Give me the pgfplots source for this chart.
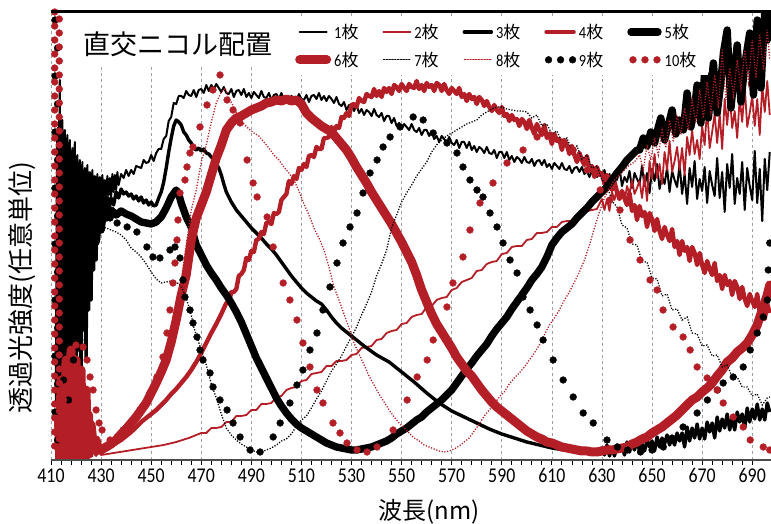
\documentclass[border=0pt]{standalone}
\usepackage{fontspec}
\setmainfont{Carlito}[FakeStretch=0.85]
\newfontfamily\jp{Noto Sans CJK JP}
\usepackage{pgfplots}
\pgfplotsset{compat=1.18}
\definecolor{redE}{RGB}{180,30,38}
\newcommand{\mai}{{\jp 枚}}
\pgfplotsset{
  linelegend/.style={legend image code/.code={\draw[##1, line cap=round] (0pt,0pt) -- (27pt,0pt);}},
  dotlegend/.style={legend image code/.code={\draw[##1] plot coordinates {(2pt,0pt)(14pt,0pt)(26pt,0pt)};}},
}
\begin{document}
\begin{tikzpicture}
\useasboundingbox (-51pt,-64pt) rectangle (720pt,460pt);
\begin{axis}[
  scale only axis, width=720pt, height=448pt,
  at={(0pt,0pt)}, anchor=south west,
  xmin=410, xmax=697.5, ymin=0, ymax=448,
  axis line style={draw=none},
  xtick={410,430,...,690}, minor x tick num=4,
  xtick pos=bottom, ytick=\empty,
  tick align=outside,
  major tick length=5pt, minor tick length=5pt,
  tick style={black, line width=0.8pt},
  xmajorgrids, major grid style={gray!75, line width=0.6pt, dash pattern=on 3pt off 3pt},
  /pgf/number format/assume math mode=true,
  xticklabel style={font=\fontsize{21}{21}\selectfont},
  legend columns=5,
  legend style={at={(axis description cs:0.325,0.989)}, anchor=north west,
    draw=none, fill=white, inner xsep=10pt, inner ysep=5pt,
    font=\fontsize{17}{17}\selectfont, row sep=8pt,
    /tikz/every odd column/.append style={column sep=1pt},
    /tikz/every even column/.append style={column sep=22pt}},
  legend cell align=left,
  linelegend,
]
% 1 plate
\addplot[black, line width=2pt, line join=round] coordinates {
(413,160)(413.5,380)(414,200)(414.5,340)(415,250)(415.5,330)(416,220)(416.5,325)(417,240)(417.5,320)(418,230)(418.5,312)(419,250)(419.5,318)(420,235)(420.5,305)(421,255)(421.5,300)(422,240)(422.5,298)(423,250)(423.5,292)(424,245)(424.5,295)(425,255)(425.5,288)(426,250)(426.5,290)(427,258)(427.5,284)(428,250)(428.5,286)(429,262)(429.5,283)(430,255)(430.5,285)(431,262)(431.5,280)(432,258)(432.5,284)(433,265)(433.5,282)(434,262)(434.5,286)(435,268)(435.5,285)(436,270)(436.5,288)(437,275)
(438,286)(439,282)(440,290)(441,284)(442,290)(443,286)(444,294)(445,293)(446,292)(447,300)(448,297)(449,298)(450,305)(451,299)(452,307)(453,311)(454,311)
(455,321)(456,324)(457,339)(458,343)(459,357)(460,356)(461,364)(462,364)(463,362)(464,369)(465,365)(466,364)(467,370)(468,363)(469,370)(470,371)(471,367)(472,375)(473,369)(474,375)(475,371)(476,376)(477,372)(478,368)(479,373)(480,367)(481,366)(482,371)(483,363)(484,369)(485,370)(486,365)(487,371)(488,363)(489,367)(490,362)(491,368)(492,365)(493,362)(494,369)(495,363)(496,362)(497,367)(498,360)(499,365)(500,366)(501,361)(502,367)(503,360)(504,364)(505,358)(506,364)(507,362)(508,359)(509,366)(510,361)(511,360)(512,365)(513,358)(514,364)(515,365)(516,361)(517,367)(518,360)(519,364)(520,359)(521,364)(522,361)(523,357)(524,363)(525,356)(526,354)(527,358)(528,350)(529,355)(530,355)(531,349)(532,355)(533,347)(534,351)(535,345)(536,350)(537,348)(538,344)(539,351)(540,345)(541,343)(542,347)(543,339)(544,344)(545,344)(546,337)(547,342)(548,334)(549,337)(550,331)(551,336)(552,333)(553,330)(554,336)(555,330)(556,328)(557,332)(558,325)(559,330)(560,330)(561,324)(562,329)(563,321)(564,324)(565,318)(566,324)(567,321)(568,317)(569,323)(570,317)(571,315)(572,320)(573,312)(574,318)(575,318)(576,312)(577,318)(578,310)(579,314)(580,308)(581,313)(582,311)(583,307)(584,313)(585,307)(586,306)(587,310)(588,302)(589,308)(590,308)(591,302)(592,308)(593,300)(594,304)(595,298)(596,303)(597,301)(598,297)(599,303)(600,298)(601,297)(602,301)(603,294)(604,299)(605,300)(606,295)(607,300)(608,293)(609,296)(610,291)(611,297)(612,294)(613,291)(614,297)(615,291)(616,290)(617,294)(618,287)(619,292)(620,293)(621,288)(622,293)(623,286)(624,289)(625,283)(626,289)(627,286)(628,283)(629,289)(630,284)
(631,290)(632,276)(633,286)(634,271)(635,288)(636,280)(637,292)(638,274)(639,283)(640,278)(641,289)(642,272)(643,287)(644,281)(645,276)(646,294)(647,274)(648,287)(649,267)(650,291)(651,279)(652,296)(653,271)(654,284)(655,276)(656,292)(657,268)(658,289)(659,280)(660,273)(661,296)(662,266)(663,286)(664,256)(665,292)(666,273)(667,299)(668,261)(669,281)(670,269)(671,293)(672,257)(673,289)(674,275)(675,264)(676,302)(677,262)(678,288)(679,248)(680,296)(681,272)(682,306)(683,256)(684,282)(685,266)(686,298)(687,250)(688,292)(689,274)(690,260)(691,309)(692,257)(693,291)(694,239)(695,301)(696,270)(697,308)};
\addlegendentry{1\mai}
% 2 plates
\addplot[redE, line width=1.8pt, line join=round] coordinates {
(413,40)(413.5,0)(414,60)(414.5,5)(415,45)(415.5,0)(416,70)(416.5,10)(417,50)(417.5,0)(418,80)(418.5,5)(419,40)(419.5,0)(420,60)(420.5,3)(421,35)(421.5,0)(422,45)(422.5,2)(423,30)(423.5,0)(424,25)(424.5,2)(425,18)(426,3)(427,12)(428,4)(429,8)(430,5)(435,7)(440,9)(445,11)(450,13)(455,15)(460,18)(465,22)
(470,27)(472,27)(474,32)(476,32)(478,33)(480,38)(482,38)(484,44)(486,44)(488,45)(490,50)(492,50)(494,56)(496,56)(498,57)(500,63)(502,64)(504,70)(506,72)(508,73)(510,79)(512,80)(514,86)(516,87)(518,88)(520,94)(522,94)(524,99)(526,99)(528,100)(530,105)(532,106)(534,112)(536,113)(538,114)(540,120)(542,121)(544,127)(546,129)(548,130)(550,136)(552,137)(554,143)(556,145)(558,146)(560,153)(562,154)(564,160)(566,162)(568,163)(570,170)(572,172)(574,178)(576,180)(578,182)(580,189)(582,190)(584,196)(586,198)(588,199)(590,206)(592,207)(594,213)(596,214)(598,214)(600,220)(602,221)(604,227)(606,227)(608,228)(610,233)(612,233)(614,238)(616,239)(618,239)(620,244)(622,244)(624,249)(626,250)(628,251)
(630,261)(631,250)(632,261)(633,249)(634,268)(635,260)(636,272)(637,260)(638,267)(639,258)(640,274)(641,266)(642,280)(643,266)(644,272)(645,279)(646,262)(647,285)(648,259)(649,299)(650,281)(651,306)(652,282)(653,296)(654,276)(655,308)(656,290)(657,319)(658,288)(659,299)(660,313)(661,290)(662,312)(663,285)(664,323)(665,305)(666,330)(667,306)(668,320)(669,301)(670,334)(671,315)(672,352)(673,312)(674,328)(675,346)(676,317)(677,346)(678,311)(679,361)(680,335)(681,366)(682,332)(683,349)(684,322)(685,362)(686,338)(687,374)(688,333)(689,347)(690,364)(691,334)(692,361)(693,325)(694,374)(695,348)(696,379)(697,345)};
\addlegendentry{2\mai}
% 3 plates
\addplot[black, line width=3.4pt, line join=round] coordinates {
(413,120)(413.5,340)(414,30)(414.5,320)(415,60)(415.5,300)(416,20)(416.5,290)(417,80)(417.5,310)(418,40)(418.5,280)(419,90)(419.5,300)(420,50)(420.5,285)(421,110)(421.5,290)(422,70)(422.5,275)(423,130)(423.5,280)(424,100)(424.5,270)(425,150)(425.5,272)(426,160)(426.5,268)(427,190)(427.5,270)(428,200)(428.5,262)(429,220)(429.5,268)(430,230)(430.5,262)(431,240)(431.5,265)(432,245)(432.5,263)(433,250)(434,262)(435,255)(436,268)(437,262)(438,271)(439,266)(440,268)(441,264)(442,266)(443,261)(444,264)(445,259)(446,263)(447,257)(448,260)(449,255)(450,258)(451,254)(452,255)(453,262)(454,268)(455,278)(456,292)(457,308)(458,322)(459,334)(460,340)(461,338)(462,335)(463,328)(464,325)(465,320)(466,317)(467,312)(468,310)(469,312)(470,309)(471,311)(472,307)(473,306)(474,303)(475,300)(476,296)(477,292)(478,285)(479,276)(480,268)(482,258)(484,250)(486,244)(488,238)(490,232)(492,227)(494,222)(496,216)(498,211)(500,205)(502,198)(504,191)(506,184)(508,178)(510,172)(512,167)(514,163)(516,159)(518,156)(520,150)(522,143)(524,137)(526,132)(528,128)(530,124)(535,114)(540,105)(545,98)(550,88)(555,78)(560,67)(565,57)(570,49)(575,43)(580,37)(585,31)(590,26)(595,22)(600,18)(605,15)(610,12)(615,10)(620,9)(625,8)
(630,12)(631,5)(632,15)(633,4)(634,12)(635,4)(636,15)(637,9)(638,14)(639,5)(640,18)(641,8)(642,17)(643,10)(644,20)(645,9)(646,16)(647,9)(648,20)(649,13)(650,19)(651,9)(652,23)(653,13)(654,22)(655,16)(656,25)(657,15)(658,22)(659,15)(660,27)(661,19)(662,27)(663,13)(664,33)(665,19)(666,32)(667,22)(668,36)(669,21)(670,32)(671,21)(672,38)(673,28)(674,37)(675,22)(676,43)(677,29)(678,41)(679,32)(680,46)(681,30)(682,42)(683,30)(684,48)(685,38)(686,46)(687,32)(688,52)(689,38)(690,51)(691,41)(692,56)(693,40)(694,51)(695,40)(696,57)(697,48)};
\addlegendentry{3\mai}
% 4 plates
\addplot[redE, line width=4.4pt, line join=round] coordinates {
(413,30)(413.5,0)(414,50)(414.5,0)(415,70)(415.5,5)(416,40)(416.5,0)(417,90)(417.5,8)(418,60)(418.5,0)(419,100)(419.5,10)(420,55)(420.5,2)(421,80)(421.5,5)(422,40)(422.5,0)(423,60)(423.5,4)(424,30)(424.5,2)(425,35)(426,5)(427,20)(428,6)(429,12)(430,8)(432,12)(434,14)(436,17)(438,20)(440,24)(442,28)(444,33)(446,38)(448,42)(450,46)(452,50)(454,55)(456,60)(458,66)(460,71)(462,77)(464,83)(466,90)(468,98)(470,107)(472,117)(474,127)(476,136)(478,146)
(480,157)(481,157)(482,168)(483,168)(484,171)(485,184)(486,186)(487,190)(488,202)(489,200)(490,209)(491,208)(492,220)(493,221)(494,228)(495,226)(496,237)(497,238)(498,236)(499,247)(500,246)(501,248)(502,260)(503,263)(504,266)(505,279)(506,276)(507,284)(508,281)(509,292)(510,290)(511,296)(512,293)(513,304)(514,305)(515,303)(516,313)(517,311)(518,311)(519,322)(520,322)(521,323)(522,333)(523,328)(524,334)(525,332)(526,343)(527,342)(528,347)(529,344)(530,355)(531,356)(532,353)(533,362)(534,359)(535,358)(536,366)(537,364)(538,363)(539,371)(540,364)(541,369)(542,363)(543,372)(544,368)(545,372)(546,366)(547,375)(548,373)(549,369)(550,376)(551,372)(552,369)(553,376)(554,373)(555,372)(556,379)(557,371)(558,375)(559,369)(560,377)(561,373)(562,375)(563,369)(564,377)(565,375)(566,369)(567,376)(568,370)(569,366)(570,372)(571,369)(572,366)(573,372)(574,363)(575,366)(576,359)(577,366)(578,361)(579,363)(580,356)(581,363)(582,360)(583,354)(584,359)(585,353)(586,349)(587,355)(588,350)(589,347)(590,353)(591,344)(592,346)(593,339)(594,345)(595,340)(596,341)(597,334)(598,341)(599,338)(600,331)(601,340)(602,332)(603,326)(604,336)(605,330)(606,325)(607,335)(608,322)(609,326)(610,316)(611,326)(612,319)(613,321)(614,310)(615,320)(616,315)(617,306)(618,314)(619,305)(620,298)(621,307)(622,300)(623,295)(624,304)(625,290)(626,294)(627,283)(628,293)(629,285)(630,287)(631,276)(632,285)(633,280)(634,270)(635,278)(636,268)(637,261)(638,269)(639,262)(640,255)(641,267)(642,249)(643,255)(644,240)(645,254)(646,244)(647,248)(648,233)(649,247)(650,241)(651,229)(652,241)(653,229)(654,221)(655,233)(656,225)(657,219)(658,231)(659,213)(660,219)(661,205)(662,219)(663,209)(664,213)(665,199)(666,213)(667,207)(668,195)(669,207)(670,195)(671,187)(672,199)(673,191)(674,185)(675,197)(676,179)(677,185)(678,171)(679,185)(680,175)(681,179)(682,165)(683,179)(684,173)(685,161)(686,173)(687,161)(688,154)(689,166)(690,159)(691,153)(692,166)(693,148)(694,155)(695,141)(696,156)(697,147)};
\addlegendentry{4\mai}
% 5 plates
\addplot[black, line width=7.4pt, line cap=round, line join=round] coordinates {
(413,60)(413.5,330)(414,40)(414.5,300)(415,80)(415.5,310)(416,60)(416.5,290)(417,110)(417.5,280)(418,90)(418.5,290)(419,130)(419.5,270)(420,120)(420.5,275)(421,150)(421.5,265)(422,160)(422.5,260)(423,175)(423.5,258)(424,185)(424.5,250)(425,195)(425.5,252)(426,205)(426.5,248)(427,212)(427.5,250)(428,218)(429,240)(430,230)(431,250)(432,242)(434,250)(436,245)(438,249)(440,246)(442,244)(444,241)(446,238)(448,237)(450,236)(452,238)(454,243)(456,252)(458,263)(460,270)(461,266)(462,257)(464,243)(466,233)(468,215)(470,205)(472,195)(474,187)(476,180)(478,172)(480,165)(482,157)(484,148)(486,138)(488,126)(490,114)(492,102)(494,92)(496,82)(498,72)(500,62)(502,54)(504,47)(506,41)(508,36)(510,32)(512,29)(514,26)(516,23)(518,20)(520,17)(522,15)(524,13)(526,12)(528,11)(530,10)(532,10)(534,11)(536,12)(538,13)(540,15)(542,17)(544,19)(546,22)(548,26)(550,29)(552,32)(554,36)(556,40)(558,43)(560,48)(562,52)(564,56)(566,60)(568,65)(570,70)(572,77)(574,84)(576,91)(578,97)(580,104)(582,110)(584,116)(586,124)(588,131)(590,137)(592,143)(594,151)(596,158)(598,165)(600,172)(602,180)(604,186)(606,193)(608,203)(610,215)(612,222)(614,228)(616,232)(618,236)(620,242)(622,247)(624,252)(626,258)(628,263)(630,268)(632,273)(634,280)(636,287)(638,293)(640,300)(642,305)(644,310)(645,310)(646.5,322)(648,314)(649.5,328)(651,317)(652.5,333)(653.5,342)(655,320)(656.5,335)(658,350)(659.5,326)(661,340)(662.5,330)(664,367)(665.5,333)(667,352)(668,375)(669.5,337)(671,387)(672.5,342)(674.5,397)(676,347)(677.5,378)(678.5,407)(680,430)(681.5,352)(683,390)(684,415)(685.5,358)(687,395)(689,427)(690.5,365)(692,440)(693.5,372)(695,448)(696,420)(697,448)};
\addlegendentry{5\mai}
% 6 plates
\addplot[redE, line width=9pt, line cap=round, line join=round] coordinates {
(413,40)(413.5,0)(414,80)(414.5,0)(415,60)(415.5,10)(416,100)(416.5,0)(417,70)(417.5,15)(418,110)(418.5,5)(419,80)(419.5,10)(420,100)(420.5,0)(421,70)(421.5,8)(422,90)(422.5,5)(423,60)(423.5,10)(424,70)(424.5,5)(425,45)(425.5,8)(426,35)(427,12)(428,20)(429,10)(430,10)(432,13)(434,16)(436,20)(438,26)(440,31)(442,37)(444,43)(446,50)(448,57)(450,67)(452,77)(454,88)(456,100)(458,118)(460,140)(462,165)(464,185)(466,220)(468,242)(470,255)(472,268)(474,285)(476,302)(478,315)(480,330)(482,337)(484,342)(486,344)(488,347)(490,350)(492,352)(494,354)(496,357)(498,358)(500,360)(502,359)(504,361)(506,359)(508,360)(510,356)(512,347)(514,342)(516,338)(518,334)(520,331)(522,328)(524,322)(526,316)(528,310)(530,302)(532,293)(534,285)(536,277)(538,268)(540,260)(542,252)(544,244)(546,236)(548,227)(550,218)(552,208)(554,198)(556,185)(558,170)(560,158)(562,146)(564,136)(566,128)(568,120)(570,112)(572,103)(574,96)(576,89)(578,84)(580,77)(582,70)(584,64)(586,58)(588,53)(590,49)(592,45)(594,41)(596,37)(598,33)(600,29)(602,26)(604,23)(606,21)(608,18)(610,17)(612,15)(614,13)(616,12)(618,11)(620,10)(622,9)(624,9)(626,8)(628,8)(630,9)(632,10)(634,10)(636,11)(638,12)(640,13)(642,16)(644,18)(646,21)(648,23)(650,27)(652,30)(654,33)(656,37)(658,41)(660,45)(662,50)(664,55)(666,60)(668,63)(670,68)(672,72)(674,77)(676,84)(678,90)(680,98)(682,102)(684,108)(686,112)(688,117)(690,125)(692,135)(694,150)(696,165)(697,175)};
\addlegendentry{6\mai}
% 7 plates
\addplot[black, line width=1.3pt, dash pattern=on 1.2pt off 1.6pt] coordinates {
(413,330)(413.5,150)(414,300)(414.5,180)(415,310)(415.5,170)(416,280)(416.5,200)(417,290)(417.5,190)(418,270)(418.5,210)(419,275)(419.5,200)(420,260)(420.5,215)(421,262)(421.5,210)(422,250)(422.5,220)(423,255)(423.5,218)(424,245)(424.5,225)(425,248)(426,230)(427,242)(428,232)(429,240)(430,233)(432,232)(434,230)(436,228)(438,225)(440,220)(442,212)(444,208)(446,203)(448,196)(450,188)(452,181)(454,177)(456,178)(458,179)(460,178)(462,174)(464,162)(466,145)(467,133)(468,125)(470,110)(472,95)(474,76)(476,62)(478,46)(480,32)(482,25)(484,20)(486,16)(488,13)(490,10)(492,8)(494,8)(496,10)(498,12)(500,15)(502,19)(504,21)(506,26)(508,34)(510,40)(512,44)(514,52)(516,61)(518,69)(520,79)(522,89)(524,96)(526,104)(528,114)(530,123)(532,133)(534,145)(536,156)(538,168)(540,184)(542,196)(544,210)(546,232)(548,245)(550,258)(552,267)(554,275)(556,284)(558,291)(560,298)(562,308)(564,315)(566,320)(568,324)(570,327)(572,330)(574,333)(576,336)(578,338)(580,340)(582,345)(584,348)(586,351)(588,353)(590,353)(592,351)(594,350)(596,349)(598,349)(600,348)(602,342)(604,345)(606,334)(608,336)(610,326)(612,329)(614,318)(616,322)(618,310)(620,314)(622,301)(624,305)(626,292)(628,294)(630,280)(632,275)(634,259)(636,253)(638,235)(640,232)(642,216)(644,215)(646,198)(648,198)(650,182)(652,181)(654,164)(656,166)(658,150)(660,151)(662,140)(664,143)(666,127)(668,126)(670,114)(672,115)(674,104)(676,105)(678,93)(680,95)(682,83)(684,83)(686,73)(688,73)(690,64)(692,66)(694,55)(696,62)(697,63)};
\addlegendentry{7\mai}
% 8 plates
\addplot[redE, line width=1.3pt, dash pattern=on 1.2pt off 1.6pt] coordinates {
(413,20)(413.5,0)(414,40)(414.5,0)(415,30)(416,0)(417,25)(418,2)(419,15)(420,0)(421,12)(422,2)(424,5)(426,3)(428,5)(430,7)(432,9)(434,12)(436,16)(438,22)(440,28)(442,35)(444,43)(446,50)(448,59)(450,67)(452,82)(454,95)(456,108)(458,125)(460,150)(462,180)(464,215)(466,250)(468,270)(470,298)(472,315)(474,338)(476,357)(478,368)(479.5,372)(481,362)(483,353)(485,342)(487,336)(489,331)(491,327)(493,324)(495,318)(497,312)(499,305)(501,300)(503,293)(505,287)(507,280)(509,269)(511,256)(513,245)(515,232)(517,222)(519,210)(521,193)(523,173)(525,160)(527,146)(529,132)(531,117)(533,106)(535,95)(537,84)(539,75)(541,66)(543,58)(545,50)(547,43)(549,37)(551,32)(553,27)(555,22)(557,19)(559,15)(561,13)(563,11)(565,9)(567,8)(569,9)(571,11)(573,14)(575,18)(577,22)(579,29)(581,36)(583,44)(585,50)(587,56)(589,63)(591,68)(593,76)(595,82)(597,87)(599,93)(601,100)(603,107)(605,115)(607,125)(609,135)(611,142)(613,150)(615,160)(617,168)(619,178)(621,188)(623,200)(625,215)(627,232)(629,248)(631,262)(633,272)(635,280)(637,285)(639,290)(641,295)(643,298)(645,305)(646.5,290)(648,315)(649.5,300)(651,322)(652.5,305)(654,330)(655.5,312)(657,340)(658.5,318)(660,345)(661.5,325)(663,352)(664.5,330)(666,360)(667.5,337)(669,370)(670.5,342)(672,378)(673.5,348)(675,385)(676.5,352)(678,410)(679.5,360)(681,392)(682.5,365)(684,400)(685.5,372)(687,410)(688.5,378)(690,420)(691.5,382)(693,425)(694.5,390)(696,430)(697,400)};
\addlegendentry{8\mai}
% 9 plates
\addplot[only marks, mark=*, mark size=3.4pt, black, dotlegend] coordinates {
(411.6,440)(412.6,412)(411.6,384)(412.6,356)(411.6,328)(412.6,300)(411.6,272)(412.6,244)(411.6,216)(412.6,188)(411.6,160)(412.6,132)(411.6,104)(412.6,76)(411.6,48)(412.6,20)
(415,80)(416,120)(417,60)(418,150)(419,100)(420,170)(421,130)(421.5,120)(422.3,150)(423,175)(424,197)(425.6,205)(426.8,210)(428.8,230)(430.8,243)(433.6,242)(436.4,237)(440.4,233)(444.3,228)(448.3,213)(450.7,203)(453.5,202)(457.5,210)(459.5,213)(461.5,202)(462.7,180)(463.5,163)(465.5,150)(466.7,137)(468.3,123)(469.5,110)(470.7,100)(473.5,87)(474.7,73)(477.5,60)(480.3,50)(482.7,37)(485.5,23)(489.5,10)(493.5,8)(498.7,23)(501.5,37)(505.4,57)(508.2,75)(510.6,90)(513.4,110)(516.2,127)(518.6,150)(521.4,173)(524.2,197)(526.6,217)(529.4,233)(532.2,247)(534.6,267)(537.4,287)(540.2,300)(542.6,313)(545.4,323)(549.4,333)(554.6,343)(558.6,340)(562.6,327)(568.1,317)(572.1,307)(574.5,293)(577.3,280)(580.1,270)(582.5,263)(585.3,247)(588.1,233)(590.5,217)(593.3,200)(596.1,187)(598.5,163)(601.3,150)(604.1,135)(606.5,120)(610.5,100)(614.5,80)(618.5,63)(622.5,47)(626.5,37)(632,20)(636.2,13)(640.2,10)(645.4,8)(650,10)(654.5,13)(658,22)(662.4,33)(668,47)(672.1,60)(676.1,70)(678.4,77)(682.4,83)(686.4,93)(689.2,110)(692,127)(694.4,143)(696,160)(696.4,190)(697,217)};
\addlegendentry{9\mai}
% 10 plates
\addplot[only marks, mark=*, mark size=3.4pt, redE, dotlegend] coordinates {
(411.5,448)(413.3,441)(411.5,434)(413.3,427)(411.5,420)(413.3,413)(411.5,406)(413.3,399)(411.5,392)(413.3,385)(411.5,378)(413.3,371)(411.5,364)(413.3,357)(411.5,350)(413.3,343)(411.5,336)(413.3,329)(411.5,322)(413.3,315)(411.5,308)(413.3,301)(411.5,294)(413.3,287)(411.5,280)(413.3,273)(411.5,266)(413.3,259)(411.5,252)(413.3,245)(411.5,238)(413.3,231)(411.5,224)(413.3,217)(411.5,210)(413.3,203)(411.5,196)(413.3,189)(411.5,182)(413.3,175)(411.5,168)(413.3,161)(411.5,154)(413.3,147)(411.5,140)(413.3,133)(411.5,126)(413.3,119)(411.5,112)(413.3,105)(411.5,98)(413.3,91)(411.5,84)(413.3,77)(411.5,70)(413.3,63)(411.5,56)(413.3,49)(411.5,42)(413.3,35)(411.5,28)(413.3,21)(411.5,14)(413.3,7)
(415,60)(416,100)(417,40)(418,110)(419,70)(420,115)(421,90)(422.8,113)(424.4,100)(425.6,83)(426.8,70)(428,50)(429.2,37)(430.4,30)(433.6,20)(436.4,23)(438.8,30)(442.7,40)(445.5,50)(449.5,67)(452.3,83)(454.7,103)(456.3,127)(457.5,150)(458.7,177)(459.5,197)(460.3,220)(460.7,240)(461.5,267)(463.5,280)(464.3,293)(465.5,307)(466.7,313)(469.5,333)(472.3,355)(474.7,370)(477.5,385)(480.3,360)(482.7,350)(485.5,337)(488.3,300)(490.7,277)(492.3,263)(496.3,243)(498.7,213)(502.7,177)(505.4,160)(508.2,140)(510.6,117)(513.4,93)(516.2,70)(518.6,57)(522.6,37)(525.4,27)(528.2,17)(532.2,10)(536.2,8)(540.2,13)(546.6,30)(552.2,60)(556.2,83)(560.2,100)(562.6,120)(568.1,153)(570.5,177)(574.5,203)(577.3,230)(581.3,257)(586.5,277)(592.1,297)(598.5,310)(604.1,323)(609.3,325)(614.5,318)(618.5,310)(624.1,290)(629.3,270)(633.2,260)(637.2,250)(641.2,220)(645.2,200)(649.2,180)(652,170)(654.4,150)(658.4,133)(662.4,123)(665.2,110)(668,93)(672,82)(676,70)(678.4,57)(682.4,43)(686.4,33)(689.2,20)(694.4,13)(697,10)};
\addlegendentry{10\mai}
\end{axis}
% frame lines
\draw[black, line width=3pt] (0pt,448pt) -- (720pt,448pt);
\draw[gray!60!black, line width=1.6pt] (0pt,0pt) -- (720pt,0pt);
% heading box
\fill[white] (16pt,393pt) rectangle (235pt,446.5pt);
\node[anchor=west, font=\jp\fontsize{27}{27}\selectfont, inner sep=0pt] at (32pt,416pt) {直交ニコル配置};
\node[rotate=90, font=\jp\fontsize{26}{26}\selectfont] at (-29pt,172pt) {透過光強度(任意単位)};
\node[font=\jp\fontsize{24}{24}\selectfont] at (378pt,-52pt) {波長(nm)};
\end{tikzpicture}
\end{document}
